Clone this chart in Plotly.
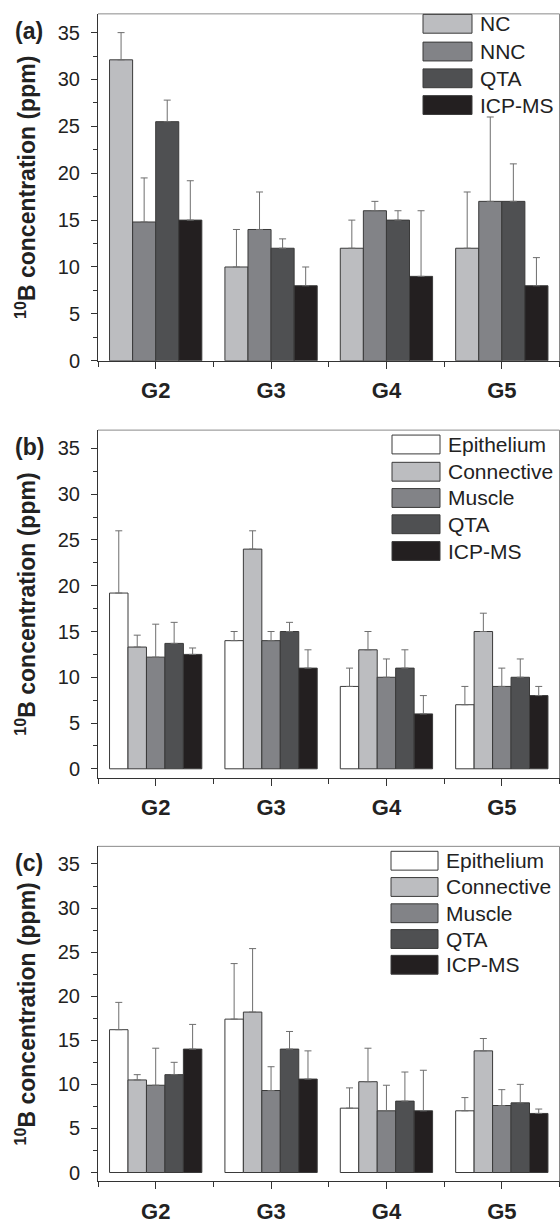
import plotly.graph_objects as go

# ---------------- data ----------------
groups = ["G2", "G3", "G4", "G5"]
xpos = [0, 1, 2, 3]

a_names = ["NC", "NNC", "QTA", "ICP-MS"]
a_NC = [32.1, 10.0, 12.0, 12.0]
a_NC_err = [2.9, 4.0, 3.0, 6.0]
a_NNC = [14.8, 14.0, 16.0, 17.0]
a_NNC_err = [4.7, 4.0, 1.0, 9.0]
a_QTA = [25.5, 12.0, 15.0, 17.0]
a_QTA_err = [2.3, 1.0, 1.0, 4.0]
a_ICP = [15.0, 8.0, 9.0, 8.0]
a_ICP_err = [4.2, 2.0, 7.0, 3.0]

b_names = ["Epithelium", "Connective", "Muscle", "QTA", "ICP-MS"]
b_Epi = [19.2, 14.0, 9.0, 7.0]
b_Epi_err = [6.8, 1.0, 2.0, 2.0]
b_Con = [13.3, 24.0, 13.0, 15.0]
b_Con_err = [1.3, 2.0, 2.0, 2.0]
b_Mus = [12.2, 14.0, 10.0, 9.0]
b_Mus_err = [3.6, 1.0, 2.0, 2.0]
b_QTA = [13.7, 15.0, 11.0, 10.0]
b_QTA_err = [2.3, 1.0, 2.0, 2.0]
b_ICP = [12.5, 11.0, 6.0, 8.0]
b_ICP_err = [0.7, 2.0, 2.0, 1.0]

c_names = ["Epithelium", "Connective", "Muscle", "QTA", "ICP-MS"]
c_Epi = [16.2, 17.4, 7.3, 7.0]
c_Epi_err = [3.1, 6.3, 2.3, 1.5]
c_Con = [10.5, 18.2, 10.3, 13.8]
c_Con_err = [0.6, 7.2, 3.8, 1.4]
c_Mus = [9.9, 9.3, 7.0, 7.6]
c_Mus_err = [4.2, 2.7, 2.9, 1.8]
c_QTA = [11.1, 14.0, 8.1, 7.9]
c_QTA_err = [1.4, 2.0, 3.3, 2.1]
c_ICP = [14.0, 10.6, 7.0, 6.7]
c_ICP_err = [2.8, 3.2, 4.6, 0.5]

ytick_vals = [0, 5, 10, 15, 20, 25, 30, 35]
panel_labels = ["(a)", "(b)", "(c)"]
ytitle = "<sup>10</sup>B concentration (ppm)"

# ---------------- style ----------------
W, H = 560, 1228
FONT = "Liberation Sans, Arial, sans-serif"
C_WHITE = "#ffffff"
C_LIGHT = "#bcbdc0"
C_MID = "#828387"
C_DARK = "#4f5052"
C_BLACK = "#231f20"
a_colors = [C_LIGHT, C_MID, C_DARK, C_BLACK]
bc_colors = [C_WHITE, C_LIGHT, C_MID, C_DARK, C_BLACK]

def px_x(p):
    return p / W

def px_y(p):
    return 1 - p / H

# panel pixel geometry (top, bottom) and y-ranges
panels = [
    dict(top=14, bot=364, yr=[0, 37]),
    dict(top=434, bot=785, yr=[-1, 37]),
    dict(top=854, bot=1192, yr=[-1, 37]),
]
X_LEFT, X_RIGHT = 98, 559.5

# legend geometry (pixels)
legends = [
    dict(x0=423, x1=472, rows=[24, 52, 79, 106], h=19),
    dict(x0=392, x1=440, rows=[448.5, 476, 502.5, 529, 556], h=19),
    dict(x0=391, x1=438, rows=[868.5, 895, 921.5, 947.5, 973.5], h=19),
]

fig = go.Figure()

panel_data = [
    (a_names, [a_NC, a_NNC, a_QTA, a_ICP], [a_NC_err, a_NNC_err, a_QTA_err, a_ICP_err], a_colors),
    (b_names, [b_Epi, b_Con, b_Mus, b_QTA, b_ICP], [b_Epi_err, b_Con_err, b_Mus_err, b_QTA_err, b_ICP_err], bc_colors),
    (c_names, [c_Epi, c_Con, c_Mus, c_QTA, c_ICP], [c_Epi_err, c_Con_err, c_Mus_err, c_QTA_err, c_ICP_err], bc_colors),
]

shapes = []
annotations = []

for i, (names, vals, errs, cols) in enumerate(panel_data):
    sfx = "" if i == 0 else str(i + 1)
    for name, v, e, c in zip(names, vals, errs, cols):
        fig.add_trace(go.Bar(
            x=xpos, y=v, name=name, showlegend=False, hoverinfo="skip",
            xaxis="x" + sfx, yaxis="y" + sfx,
            offsetgroup=name,
            marker=dict(color=c, line=dict(color="#3a3a3a", width=1)),
            error_y=dict(type="data", array=e, arrayminus=[0] * len(e), symmetric=False,
                         color="#6e6e6e", thickness=1, width=3.5),
        ))
    p = panels[i]
    dom_y = [px_y(p["bot"]), px_y(p["top"])]
    xa = dict(
        domain=[px_x(X_LEFT), px_x(X_RIGHT)], anchor="y" + sfx,
        range=[-0.5, 3.5], tickmode="array", tickvals=xpos, ticktext=groups,
        ticks="outside", ticklen=7, tickwidth=1, tickcolor="#333333",
        minor=dict(tickmode="array", tickvals=[-0.5, 0.5, 1.5, 2.5, 3.5], ticks="outside",
                   ticklen=5, tickwidth=1, tickcolor="#333333"),
        showline=True, linecolor="#333333", linewidth=1, showgrid=False, zeroline=False,
        tickfont=dict(family=FONT, size=22, color="#222222", weight="bold"),
        ticklabelstandoff=3, fixedrange=True,
    )
    ya = dict(
        domain=dom_y, anchor="x" + sfx, range=p["yr"],
        tickmode="array", tickvals=ytick_vals,
        ticks="outside", ticklen=6, tickwidth=1, tickcolor="#333333",
        minor=dict(dtick=2.5, tick0=0, ticks="outside", ticklen=4, tickwidth=1, tickcolor="#333333"),
        showline=True, linecolor="#333333", linewidth=1, showgrid=False, zeroline=False,
        tickfont=dict(family=FONT, size=20, color="#222222"),
        ticklabelstandoff=7, fixedrange=True,
        title=dict(text="<b>" + ytitle + "</b>", standoff=15,
                   font=dict(family=FONT, size=23, color="#222222")),
    )
    fig.layout["xaxis" + sfx] = xa
    fig.layout["yaxis" + sfx] = ya

    # top and right frame lines (lighter)
    shapes.append(dict(type="line", xref="paper", yref="paper",
                       x0=px_x(X_LEFT), x1=px_x(X_RIGHT), y0=px_y(p["top"]), y1=px_y(p["top"]),
                       line=dict(color="#8a8a8a", width=1)))
    shapes.append(dict(type="line", xref="paper", yref="paper",
                       x0=px_x(X_RIGHT), x1=px_x(X_RIGHT), y0=px_y(p["top"]), y1=px_y(p["bot"]),
                       line=dict(color="#8a8a8a", width=1)))

    # panel label
    annotations.append(dict(text="<b>" + panel_labels[i] + "</b>", xref="paper", yref="paper",
                            x=px_x(13), y=px_y(p["top"] + 17), xanchor="left", yanchor="middle",
                            showarrow=False, font=dict(family=FONT, size=23, color="#222222")))

    # legend (manual, large swatches)
    lg = legends[i]
    for name, c, yc in zip(names, cols, lg["rows"]):
        shapes.append(dict(type="rect", xref="paper", yref="paper",
                           x0=px_x(lg["x0"]), x1=px_x(lg["x1"]),
                           y0=px_y(yc + lg["h"] / 2), y1=px_y(yc - lg["h"] / 2),
                           fillcolor=c, line=dict(color="#3a3a3a", width=1)))
        annotations.append(dict(text=name, xref="paper", yref="paper",
                                x=px_x(lg["x1"] + 6), y=px_y(yc), xanchor="left", yanchor="middle",
                                showarrow=False, font=dict(family=FONT, size=21, color="#222222")))

fig.update_layout(
    width=W, height=H,
    margin=dict(l=0, r=0, t=0, b=0),
    paper_bgcolor="white", plot_bgcolor="white",
    barmode="group", bargap=0.2, bargroupgap=0,
    shapes=shapes, annotations=annotations,
    font=dict(family=FONT, color="#222222"),
    hovermode=False,
)

fig.write_html("out.html",
               config={"displayModeBar": False},
               post_script="document.body.style.margin='0';document.body.style.padding='0';")
